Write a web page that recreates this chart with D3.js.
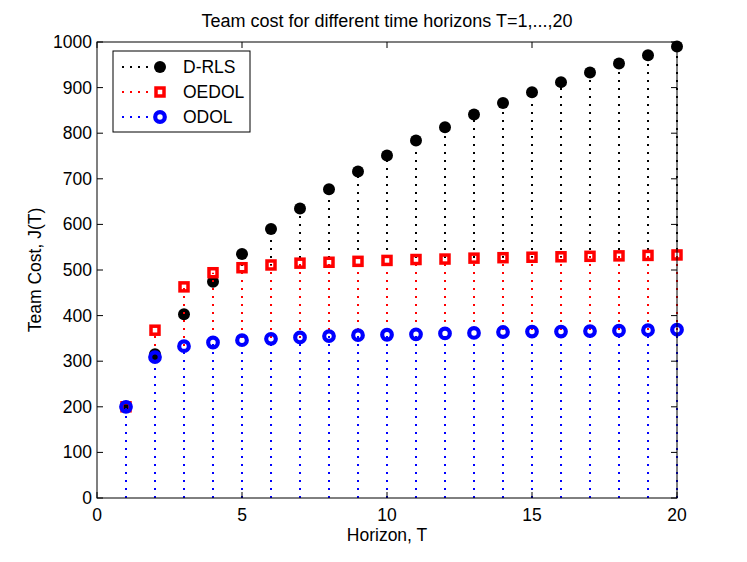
<!DOCTYPE html>
<html>
<head>
<meta charset="utf-8">
<script src="https://cdn.jsdelivr.net/npm/d3@7"></script>
<style>
  body { margin: 0; background: #fff; }
  svg { display: block; }
  text { font-family: "Liberation Sans", Arial, Helvetica, sans-serif; fill: #000; }
</style>
</head>
<body>
<svg id="chart" width="747" height="562"></svg>
<script>
// horizons and team cost per method
var horizon = [1, 2, 3, 4, 5, 6, 7, 8, 9, 10, 11, 12, 13, 14, 15, 16, 17, 18, 19, 20];
var drls  = [200, 315, 403, 474, 535, 590, 635, 677, 716, 751, 784, 813, 841, 866, 890, 912, 933, 953, 971, 990];
var oedol = [200, 368, 463, 494, 505, 511, 515, 517, 519, 521, 523, 524, 526, 527, 528, 529, 530, 531, 532, 533];
var odol  = [200, 309, 333, 341, 346, 349, 352, 355, 357, 358, 359, 361, 362, 364, 365, 365, 366, 367, 368, 369];
var seriesNames = ["D-RLS", "OEDOL", "ODOL"];
var xTicks = [0, 5, 10, 15, 20];
var yTicks = [0, 100, 200, 300, 400, 500, 600, 700, 800, 900, 1000];

var svg = d3.select('#chart');
var margin = { top: 42, left: 97, bottom: 64, right: 70 };
var width = 747, height = 562;

var x = d3.scaleLinear().domain([0, 20]).range([margin.left, width - margin.right]);
var y = d3.scaleLinear().domain([0, 1000]).range([height - margin.bottom, margin.top]);

// stems snapped to whole pixels so the top series fully hides the ones below
function stemX(t) { return Math.round(x(t)); }

var series = [
    { name: seriesNames[0], values: drls,  color: "#000000", marker: "dot" },
    { name: seriesNames[1], values: oedol, color: "#ff0000", marker: "square" },
    { name: seriesNames[2], values: odol,  color: "#0000ff", marker: "ring" }
];

function drawMarker(g, type, color, cx, cy) {
    if (type === "dot") {
        g.append("circle").attr("cx", cx).attr("cy", cy).attr("r", 6).attr("fill", color);
    } else if (type === "square") {
        g.append("rect").attr("x", cx - 4).attr("y", cy - 4).attr("width", 8).attr("height", 8)
            .attr("fill", "none").attr("stroke", color).attr("stroke-width", 3.5);
    } else {
        g.append("circle").attr("cx", cx).attr("cy", cy).attr("r", 4.8)
            .attr("fill", "none").attr("stroke", color).attr("stroke-width", 4.2);
    }
}

// stems + markers, one series after another
series.forEach(function (s) {
    var g = svg.append("g");
    g.selectAll("line.stem")
        .data(s.values)
        .enter().append("line")
        .attr("class", "stem")
        .attr("x1", function (d, i) { return stemX(horizon[i]); })
        .attr("x2", function (d, i) { return stemX(horizon[i]); })
        .attr("y1", Math.round(y(0)))
        .attr("y2", function (d) { return y(d); })
        .attr("stroke", s.color)
        .attr("stroke-width", 2)
        .attr("stroke-dasharray", "2,6");
    s.values.forEach(function (d, i) {
        drawMarker(g, s.marker, s.color, x(horizon[i]), y(d));
    });
});

// axes box with inward ticks
var axisG = svg.append("g");
axisG.append("rect")
    .attr("x", x(0)).attr("y", y(1000))
    .attr("width", x(20) - x(0)).attr("height", y(0) - y(1000))
    .attr("fill", "none").attr("stroke", "#000").attr("stroke-width", 1);

xTicks.forEach(function (t) {
    axisG.append("line").attr("x1", x(t)).attr("x2", x(t)).attr("y1", y(0)).attr("y2", y(0) - 6).attr("stroke", "#000");
    axisG.append("line").attr("x1", x(t)).attr("x2", x(t)).attr("y1", y(1000)).attr("y2", y(1000) + 6).attr("stroke", "#000");
    axisG.append("text").attr("x", x(t)).attr("y", y(0) + 23)
        .style("text-anchor", "middle").style("font-size", "17.5px").text(t);
});
yTicks.forEach(function (t) {
    axisG.append("line").attr("x1", x(0)).attr("x2", x(0) + 6).attr("y1", y(t)).attr("y2", y(t)).attr("stroke", "#000");
    axisG.append("line").attr("x1", x(20)).attr("x2", x(20) - 6).attr("y1", y(t)).attr("y2", y(t)).attr("stroke", "#000");
    axisG.append("text").attr("x", x(0) - 5).attr("y", y(t) + 6)
        .style("text-anchor", "end").style("font-size", "17.5px").text(t);
});

// title and axis labels
svg.append("text")
    .attr("x", (x(0) + x(20)) / 2).attr("y", 27)
    .style("text-anchor", "middle").style("font-size", "18px")
    .text("Team cost for different time horizons T=1,...,20");

svg.append("text")
    .attr("x", (x(0) + x(20)) / 2).attr("y", 541)
    .style("text-anchor", "middle").style("font-size", "17.5px")
    .text("Horizon, T");

svg.append("text")
    .attr("transform", "translate(" + 41 + " ," + ((y(0) + y(1000)) / 2) + "), rotate(-90)")
    .style("text-anchor", "middle").style("font-size", "17.5px")
    .text("Team Cost, J(T)");

// legend
var leg = svg.append("g");
leg.append("rect").attr("x", 113).attr("y", 51).attr("width", 137).attr("height", 81)
    .attr("fill", "#fff").attr("stroke", "#000").attr("stroke-width", 1);
series.forEach(function (s, i) {
    var ly = 67 + i * 25;
    leg.append("line").attr("x1", 122).attr("x2", 150).attr("y1", ly).attr("y2", ly)
        .attr("stroke", s.color).attr("stroke-width", 2)
        .attr("stroke-dasharray", "2,6");
    drawMarker(leg, s.marker, s.color, 160, ly);
    leg.append("text").attr("x", 183).attr("y", ly + 6)
        .style("font-size", "17.5px").text(s.name);
});
</script>
</body>
</html>
